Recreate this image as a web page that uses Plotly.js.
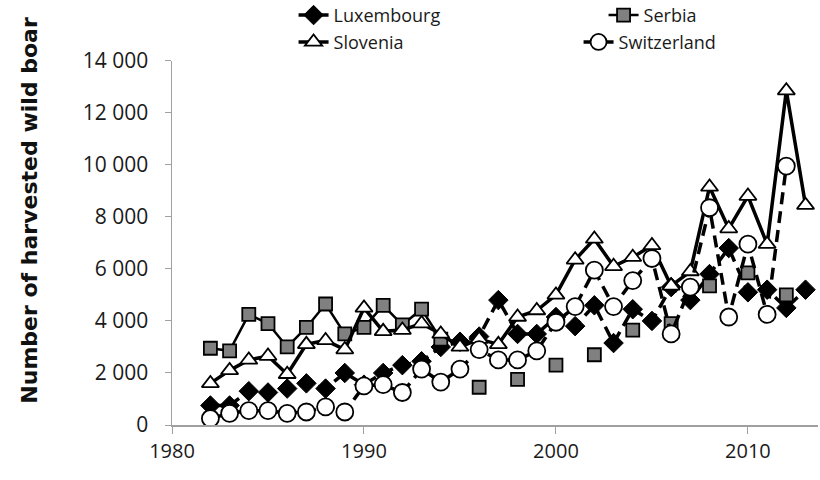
<!DOCTYPE html>
<html>
<head>
<meta charset="utf-8">
<script src="https://cdn.plot.ly/plotly-3.0.1.min.js"></script>
<style>html,body{margin:0;padding:0;background:#fff;}#chart{width:820px;height:480px;}</style>
</head>
<body>
<div id="chart"></div>
<script>
const years = [1982,1983,1984,1985,1986,1987,1988,1989,1990,1991,1992,1993,1994,1995,1996,1997,1998,1999,2000,2001,2002,2003,2004,2005,2006,2007,2008,2009,2010,2011,2012,2013];
const luxembourg = [750,750,1300,1250,1400,1600,1400,2000,1550,2000,2300,2450,3000,3200,3400,4800,3500,3500,4150,3800,4600,3150,4450,4000,5300,4800,5800,6800,5100,5200,4500,5200];
const serbia = [2950,2850,4250,3900,3000,3750,4650,3500,3750,4600,3850,4450,3300,null,1450,null,1750,null,2300,null,2700,null,3650,null,3900,null,5350,null,5850,null,5000,null];
const slovenia = [1600,2100,2500,2650,1950,3100,3250,2900,4500,3600,3650,3900,3500,3000,3300,3100,4150,4400,5000,6350,7150,6100,6450,6900,5350,5900,9150,7550,8800,6950,12850,8450];
const switzerland = [250,450,550,550,450,500,700,500,1500,1550,1250,2150,1650,2150,2900,2500,2500,2850,3950,4550,5950,4550,5550,6400,3500,5300,8350,4150,6950,4250,9950,null];
const seriesNames = ['Luxembourg','Serbia','Slovenia','Switzerland'];
const yTitle = 'Number of harvested wild boar';

const font = 'Open Sans, Liberation Sans, sans-serif';
const traces = [
  {x: years, y: luxembourg, name: seriesNames[0], mode: 'lines+markers', legend: 'legend',
   line: {color: '#000', width: 3.5, dash: '12px,7px'},
   marker: {symbol: 'diamond', size: 15, color: '#000', line: {color: '#000', width: 1}}},
  {x: years, y: serbia, name: seriesNames[1], mode: 'lines+markers', legend: 'legend', connectgaps: false,
   line: {color: '#000', width: 2.5},
   marker: {symbol: 'square', size: 13, color: '#808080', line: {color: '#000', width: 1.8}}},
  {x: years, y: slovenia, name: seriesNames[2], mode: 'lines+markers', legend: 'legend2',
   line: {color: '#000', width: 3.5},
   marker: {symbol: 'triangle-up', size: 15, color: '#fff', line: {color: '#000', width: 1.8}}},
  {x: years, y: switzerland, name: seriesNames[3], mode: 'lines+markers', legend: 'legend2',
   line: {color: '#000', width: 3.5, dash: '12px,7px'},
   marker: {symbol: 'circle', size: 17, color: '#fff', line: {color: '#000', width: 1.8}}}
];

const layout = {
  width: 820, height: 480,
  margin: {l: 172, r: 2, t: 55, b: 55},
  paper_bgcolor: '#fff', plot_bgcolor: '#fff',
  font: {family: font, color: '#1a1a1a', size: 18},
  separators: '. ',
  showlegend: true,
  legend: {orientation: 'h', xref: 'container', yref: 'container', x: 0.358, y: 0.968, xanchor: 'left', yanchor: 'middle',
           entrywidth: 265, entrywidthmode: 'pixels', font: {family: font, size: 18, color: '#1a1a1a'}, bgcolor: 'rgba(0,0,0,0)'},
  legend2: {orientation: 'h', xref: 'container', yref: 'container', x: 0.358, y: 0.912, xanchor: 'left', yanchor: 'middle',
           entrywidth: 240, entrywidthmode: 'pixels', font: {family: font, size: 18, color: '#1a1a1a'}, bgcolor: 'rgba(0,0,0,0)'},
  xaxis: {range: [1980, 2013.65], tickvals: [1980, 1990, 2000, 2010], showline: true, linecolor: '#a0a0a0', linewidth: 1.5,
          ticks: 'outside', ticklen: 7, tickcolor: '#a0a0a0', showgrid: false, zeroline: false,
          tickfont: {family: font, size: 20, color: '#1a1a1a'}},
  yaxis: {range: [0, 14000], dtick: 2000, tickformat: ',d', showline: true, linecolor: '#a0a0a0', linewidth: 1.5,
          ticks: 'outside', ticklen: 6, tickcolor: '#a0a0a0', showgrid: false, zeroline: false, ticklabelstandoff: 12,
          tickfont: {family: font, size: 21, color: '#1a1a1a'}},
  annotations: [{text: yTitle, xref: 'paper', yref: 'paper', x: -0.222, y: 0.59, textangle: -90, showarrow: false,
                 xanchor: 'center', yanchor: 'middle', font: {family: 'DejaVu Sans, sans-serif', size: 22, color: '#111', weight: 'bold'}}]
};

Plotly.newPlot('chart', traces, layout, {displayModeBar: false, staticPlot: true});
</script>
</body>
</html>
